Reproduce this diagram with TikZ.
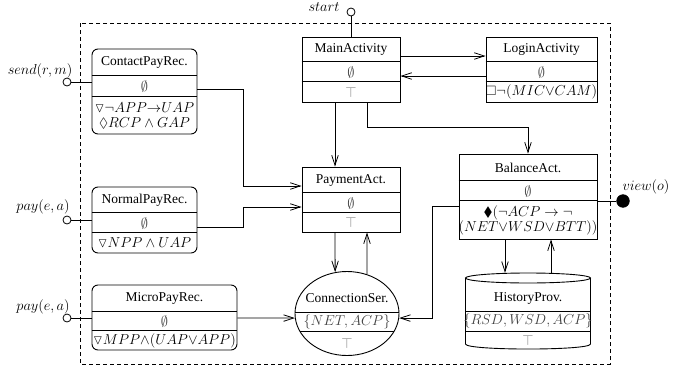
\documentclass[tikz,border=0pt]{standalone}
\usepackage{amssymb}
\usepackage{fontspec}
\setmainfont{Liberation Serif}
\usetikzlibrary{arrows.meta,shapes.geometric}
\begin{document}
\begin{tikzpicture}[x=1pt,y=-1pt,
  every node/.style={font=\fontsize{13.5}{15}\selectfont, inner sep=0pt},
  box/.style={draw, line width=0.9pt, inner sep=0pt},
  rbox/.style={box, rounded corners=6pt},
  arr/.style={line width=0.8pt, -{Straight Barb[length=10pt,width=6.5pt]}},
  wire/.style={line width=0.8pt},
  sep/.style={line width=0.8pt},
  midtxt/.style={text=black!75},
  toptxt/.style={text=black!50},
  portc/.style={draw, circle, fill=white, minimum size=8pt, line width=0.8pt},
  portf/.style={draw, circle, fill=black, minimum size=12.5pt, line width=0.8pt}]
\useasboundingbox (0,0) rectangle (694,370);
% frame
\draw[line width=0.8pt, dash pattern=on 4pt off 3pt] (80,23) rectangle (610,364);

% MainActivity
\node[box, minimum width=98pt, minimum height=65pt] (main) at (351,69.5) {};
\draw[sep] ([yshift=-25]main.north west) -- ([yshift=-25]main.north east);
\draw[sep] ([yshift=-45]main.north west) -- ([yshift=-45]main.north east);
\node (mainT) at (351,49.5) {MainActivity};
\node[midtxt] (mainM) at (351,72) {$\emptyset$};
\node[toptxt] (mainB) at (351,92) {$\top$};

% LoginActivity
\node[box, minimum width=111pt, minimum height=65pt] (login) at (541.5,69.5) {};
\draw[sep] ([yshift=-25]login.north west) -- ([yshift=-25]login.north east);
\draw[sep] ([yshift=-45]login.north west) -- ([yshift=-45]login.north east);
\node (loginT) at (541.5,49.5) {LoginActivity};
\node[midtxt] (loginM) at (541.5,72) {$\emptyset$};
\node (loginB) at (541.5,92) {$\Box\neg(MIC{\vee}CAM)$};

% ContactPayRec
\node[rbox, minimum width=105pt, minimum height=85pt] (contact) at (144.5,91.5) {};
\draw[sep] ([yshift=-27]contact.north west) -- ([yshift=-27]contact.north east);
\draw[sep] ([yshift=-48]contact.north west) -- ([yshift=-48]contact.north east);
\node (contactT) at (144.5,62.5) {ContactPayRec.};
\node[midtxt] (contactM) at (144.5,86.5) {$\emptyset$};
\node[align=center] (contactB) at (144.5,115.5) {$\triangledown\neg APP{\rightarrow}UAP$\\$\Diamond RCP\wedge GAP$};

% NormalPayRec
\node[rbox, minimum width=105pt, minimum height=66pt] (normal) at (144.5,220) {};
\draw[sep] ([yshift=-26]normal.north west) -- ([yshift=-26]normal.north east);
\draw[sep] ([yshift=-46]normal.north west) -- ([yshift=-46]normal.north east);
\node (normalT) at (144.5,200) {NormalPayRec.};
\node[midtxt] (normalM) at (144.5,223) {$\emptyset$};
\node (normalB) at (144.5,243) {$\triangledown NPP\wedge UAP$};

% MicroPayRec
\node[rbox, minimum width=145pt, minimum height=65pt] (micro) at (164.5,317.5) {};
\draw[sep] ([yshift=-27]micro.north west) -- ([yshift=-27]micro.north east);
\draw[sep] ([yshift=-46]micro.north west) -- ([yshift=-46]micro.north east);
\node (microT) at (164.5,298.5) {MicroPayRec.};
\node[midtxt] (microM) at (164.5,321.5) {$\emptyset$};
\node (microB) at (164.5,340.5) {$\triangledown MPP{\wedge}(UAP{\vee}APP)$};

% PaymentAct
\node[box, minimum width=98pt, minimum height=65pt] (payment) at (351,199.5) {};
\draw[sep] ([yshift=-26]payment.north west) -- ([yshift=-26]payment.north east);
\draw[sep] ([yshift=-46]payment.north west) -- ([yshift=-46]payment.north east);
\node (paymentT) at (351,180) {PaymentAct.};
\node[midtxt] (paymentM) at (351,203) {$\emptyset$};
\node[toptxt] (paymentB) at (351,222.5) {$\top$};

% BalanceAct
\node[box, minimum width=138pt, minimum height=85pt] (balance) at (528,196.5) {};
\draw[sep] ([yshift=-27]balance.north west) -- ([yshift=-27]balance.north east);
\draw[sep] ([yshift=-47]balance.north west) -- ([yshift=-47]balance.north east);
\node (balanceT) at (528,167.5) {BalanceAct.};
\node[midtxt] (balanceM) at (528,191) {$\emptyset$};
\node[align=center] (balanceB) at (528,220) {$\blacklozenge(\neg ACP\rightarrow\neg$\\$(NET{\vee}WSD{\vee}BTT))$};

% ConnectionSer (ellipse)
\node[ellipse, draw, line width=0.9pt, minimum width=104pt, minimum height=84pt, inner sep=0pt] (conn) at (347,313.5) {};
\begin{scope}
\clip (347,313.5) ellipse [x radius=52, y radius=42];
\draw[sep] (290,312) -- (404,312);
\draw[sep] (290,331) -- (404,331);
\end{scope}
\node (connT) at (347,298) {ConnectionSer.};
\node[midtxt] (connM) at (347,322) {$\{NET,ACP\}$};
\node[toptxt] (connB) at (347,343) {$\top$};

% HistoryProv (cylinder)
\node[minimum width=125pt, minimum height=76pt] (hist) at (528,311) {};
\draw[line width=0.9pt] (528,278) ellipse [x radius=62.5, y radius=5];
\draw[line width=0.9pt] (465.5,278) -- (465.5,344) .. controls (465.5,350.7) and (590.5,350.7) .. (590.5,344) -- (590.5,278);
\draw[sep] (465.5,311) -- (590.5,311);
\draw[sep] (465.5,331) -- (590.5,331);
\node (histT) at (528,298) {HistoryProv.};
\node[midtxt] (histM) at (528,321) {$\{RSD,WSD,ACP\}$};
\node[toptxt] (histB) at (528,340) {$\top$};

% ports
\node[portc] (start) at (351,12) {};
\node[portc] (sendp) at (67,82) {};
\node[portc] (payp1) at (67,220) {};
\node[portc] (payp2) at (67,318) {};
\node[portf] (viewp) at (623,201) {};
\node (startL) at (324,7) {$start$};
\node (sendL) at (40,71) {$send(r,m)$};
\node (payL1) at (43,207) {$pay(e,a)$};
\node (payL2) at (43,307) {$pay(e,a)$};
\node (viewL) at (646,187) {$view(o)$};

% wires
\draw[wire] (start) -- (main.north);
\draw[wire] (sendp) -- ([yshift=9.5]contact.west);
\draw[wire] (payp1) -- (normal.west);
\draw[wire] (payp2) -- ([yshift=-0.5]micro.west);
\draw[wire] ([yshift=-4.5]balance.east) -- (viewp);

% connectors
\draw[arr] ([yshift=13.5]main.east) -- ([yshift=13.5]login.west);
\draw[arr] ([yshift=-6.5]login.west) -- ([yshift=-6.5]main.east);
\draw[arr] ([xshift=-16]main.south) -- ([xshift=-16]payment.north);
\draw[arr] ([xshift=16]main.south) -- ++(0,25) -| (balance.north);
\draw[arr] ([yshift=2.5]contact.east) -- ++(46,0) |- ([yshift=13.5]payment.west);
\draw[arr] ([yshift=-7]normal.east) -- ++(46,0) |- ([yshift=-7.5]payment.west);
\draw[arr] ([xshift=-16]payment.south) -- (conn.106);
\draw[arr] (conn.63) -- ([xshift=16]payment.south);
\draw[arr] ([yshift=-0.5]micro.east) -- (conn.185);
\draw[arr] ([yshift=-9.5]balance.west) -- ++(-26,0) |- (conn.355);
\draw[arr] ([xshift=-23]balance.south) -- ([xshift=-23]hist.north);
\draw[arr] ([xshift=23]hist.north) -- ([xshift=23]balance.south);
\end{tikzpicture}
\end{document}
